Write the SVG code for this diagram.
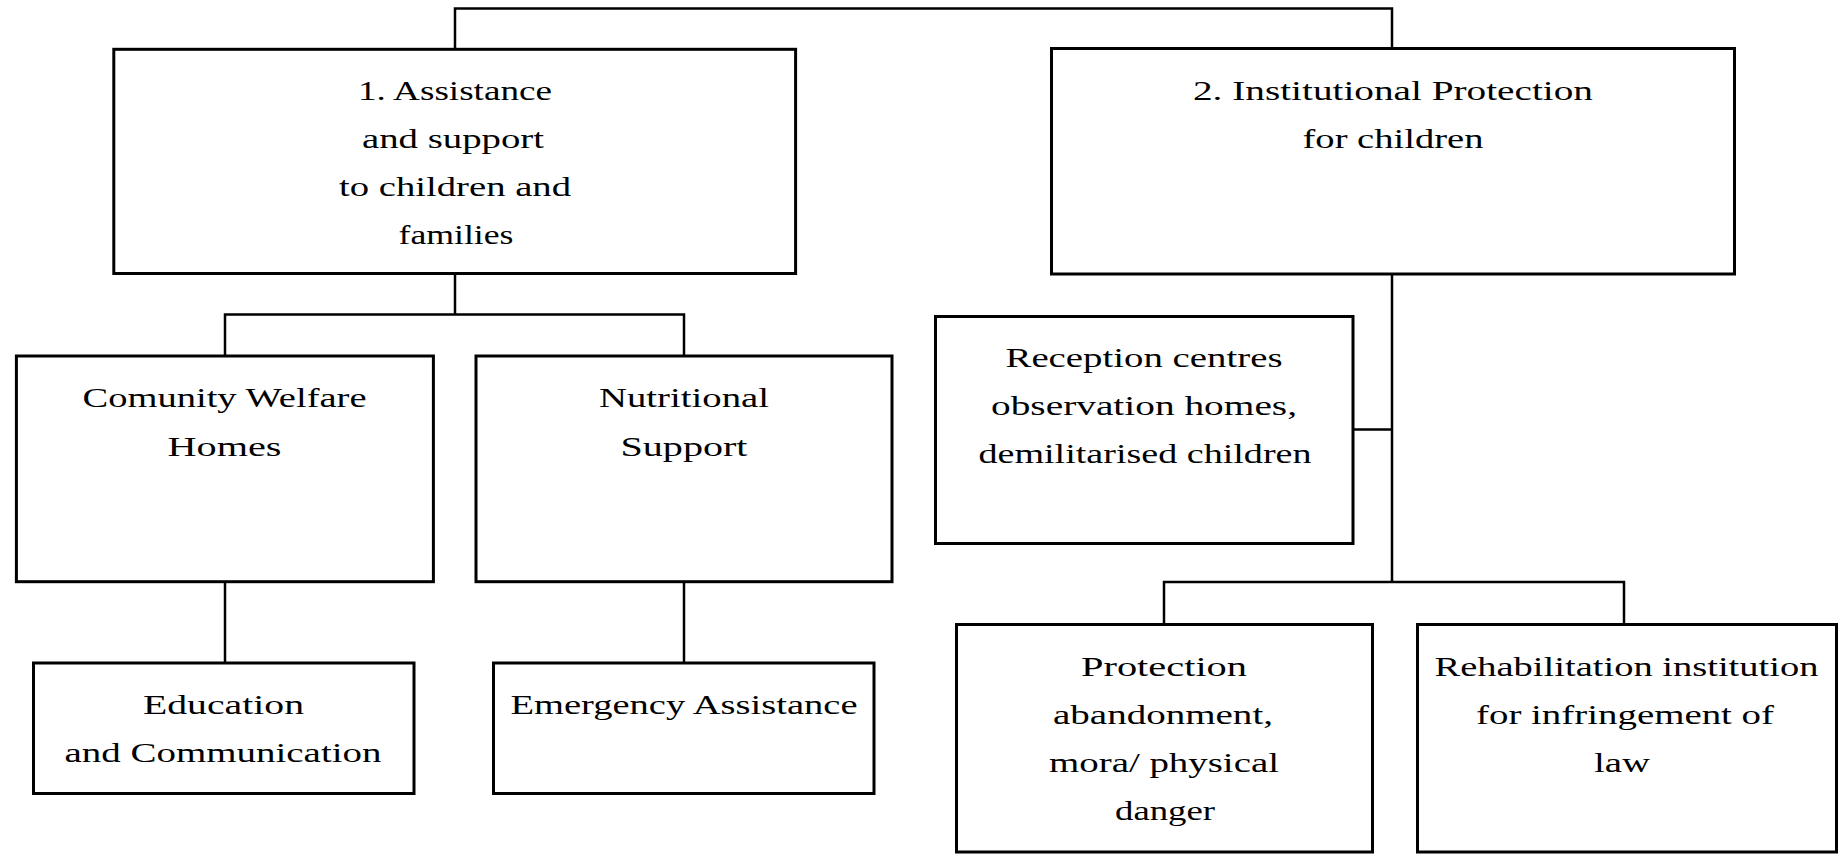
<svg xmlns="http://www.w3.org/2000/svg" width="1840" height="854" viewBox="0 0 1840 854">
  <style>
    .box { fill: #ffffff; stroke: #000000; stroke-width: 3; }
    .link { fill: none; stroke: #000000; stroke-width: 2.5; }
    text { font-family: "Liberation Serif", "Times New Roman", serif; font-size: 27px; fill: #000000; text-anchor: middle; }
  </style>
  <rect width="1840" height="854" fill="#ffffff"/>

  <!-- connectors -->
  <g id="connectors">
    <path class="link" d="M455,49 V8.5 H1392 V48.5"/>
    <path class="link" d="M455,274 V314.5 M225,356 V314.5 H684 V356"/>
    <path class="link" d="M225,582 V663"/>
    <path class="link" d="M684,582 V663"/>
    <path class="link" d="M1392,274 V582 M1164,625 V582 H1624 V625"/>
    <path class="link" d="M1353,429.5 H1392"/>
  </g>

  <g id="assistance">
    <rect class="box" x="113.8" y="49.3" width="681.8" height="224.2"/>
    <text x="455" y="100" textLength="194" lengthAdjust="spacingAndGlyphs">1. Assistance</text>
    <text x="453" y="148" textLength="182" lengthAdjust="spacingAndGlyphs">and support</text>
    <text x="455" y="196" textLength="232" lengthAdjust="spacingAndGlyphs">to children and</text>
    <text x="456" y="244" textLength="115" lengthAdjust="spacingAndGlyphs">families</text>
  </g>

  <g id="institutional">
    <rect class="box" x="1051.5" y="48.5" width="683" height="225.5"/>
    <text x="1393" y="100" textLength="400" lengthAdjust="spacingAndGlyphs">2. Institutional Protection</text>
    <text x="1393" y="148" textLength="181" lengthAdjust="spacingAndGlyphs">for children</text>
  </g>

  <g id="community">
    <rect class="box" x="16.4" y="356" width="417" height="225.7"/>
    <text x="224.5" y="407" textLength="284" lengthAdjust="spacingAndGlyphs">Comunity Welfare</text>
    <text x="224.5" y="456" textLength="114" lengthAdjust="spacingAndGlyphs">Homes</text>
  </g>

  <g id="nutritional">
    <rect class="box" x="476" y="356" width="416" height="225.7"/>
    <text x="684" y="407" textLength="170" lengthAdjust="spacingAndGlyphs">Nutritional</text>
    <text x="684" y="456" textLength="127" lengthAdjust="spacingAndGlyphs">Support</text>
  </g>

  <g id="reception">
    <rect class="box" x="935.5" y="316.5" width="417.5" height="227"/>
    <text x="1144" y="367" textLength="277" lengthAdjust="spacingAndGlyphs">Reception centres</text>
    <text x="1144" y="415" textLength="306" lengthAdjust="spacingAndGlyphs">observation homes,</text>
    <text x="1145" y="463" textLength="333" lengthAdjust="spacingAndGlyphs">demilitarised children</text>
  </g>

  <g id="education">
    <rect class="box" x="33.5" y="663" width="380.5" height="130.5"/>
    <text x="223.5" y="714" textLength="161" lengthAdjust="spacingAndGlyphs">Education</text>
    <text x="223" y="762" textLength="317" lengthAdjust="spacingAndGlyphs">and Communication</text>
  </g>

  <g id="emergency">
    <rect class="box" x="493.5" y="663" width="380.5" height="130.5"/>
    <text x="684" y="714" textLength="347" lengthAdjust="spacingAndGlyphs">Emergency Assistance</text>
  </g>

  <g id="protection">
    <rect class="box" x="956.5" y="624.5" width="416" height="227.5"/>
    <text x="1164" y="676" textLength="166" lengthAdjust="spacingAndGlyphs">Protection</text>
    <text x="1163" y="724" textLength="220" lengthAdjust="spacingAndGlyphs">abandonment,</text>
    <text x="1164" y="772" textLength="230" lengthAdjust="spacingAndGlyphs">mora/ physical</text>
    <text x="1165" y="820" textLength="100" lengthAdjust="spacingAndGlyphs">danger</text>
  </g>

  <g id="rehabilitation">
    <rect class="box" x="1417.5" y="624.5" width="419" height="227.5"/>
    <text x="1626.5" y="676" textLength="384" lengthAdjust="spacingAndGlyphs">Rehabilitation institution</text>
    <text x="1625" y="724" textLength="298" lengthAdjust="spacingAndGlyphs">for infringement of</text>
    <text x="1622" y="772" textLength="56" lengthAdjust="spacingAndGlyphs">law</text>
  </g>
</svg>
